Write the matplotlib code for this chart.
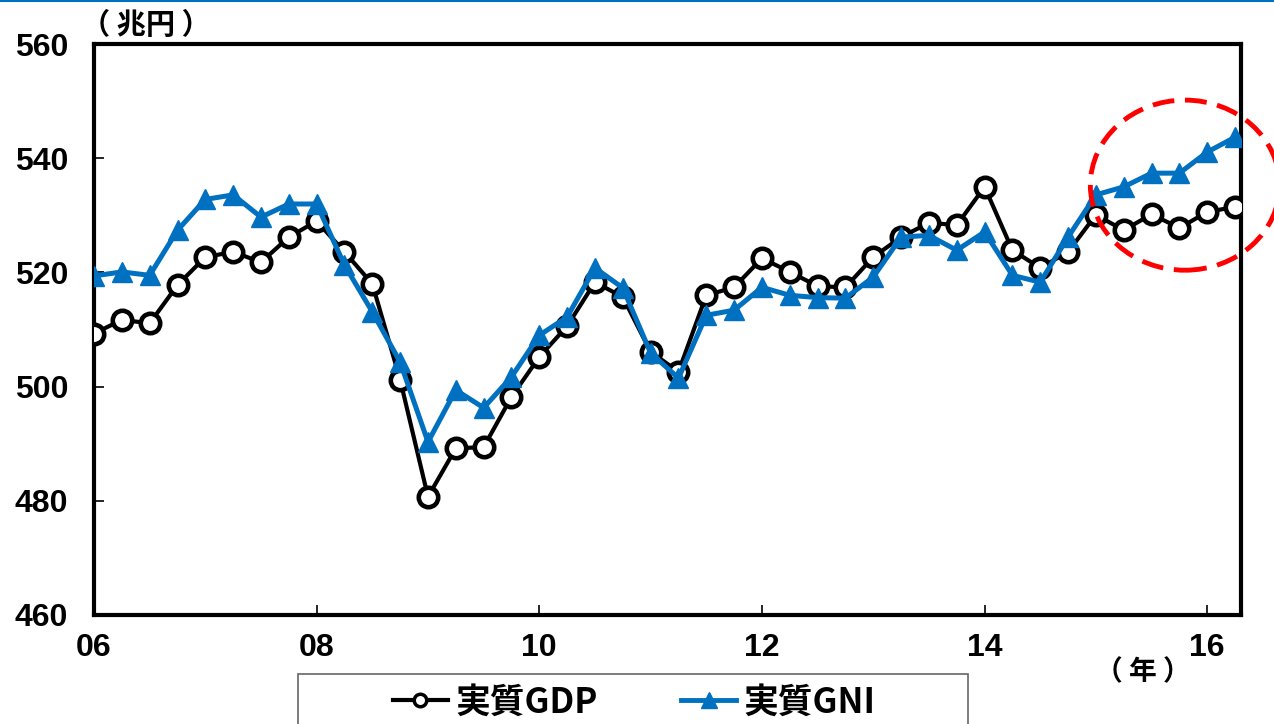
import matplotlib.pyplot as plt
from matplotlib.patches import Ellipse, Rectangle
from matplotlib.lines import Line2D

plt.rcParams['font.family'] = ['Noto Sans CJK JP', 'DejaVu Sans']

# quarterly index: 0 = 2006Q1 ... 41 = 2016Q2
quarters = list(range(42))
year_ticks = [0, 8, 16, 24, 32, 40]
year_labels = ['06', '08', '10', '12', '14', '16']

# real GDP (trillion yen)
gdp = [509.3, 511.7, 511.1, 517.8, 522.7, 523.6, 521.8, 526.2,
       529.0, 523.6, 518.0, 501.2, 480.7, 489.2, 489.4, 498.2,
       505.2, 510.6, 518.3, 515.7, 506.1, 502.6, 516.0, 517.4,
       522.5, 520.1, 517.6, 517.4, 522.7, 526.2, 528.7, 528.3,
       535.0, 523.9, 520.8, 523.6, 530.1, 527.4, 530.2, 527.8,
       530.6, 531.5]

# real GNI (trillion yen)
gni = [519.4, 520.1, 519.5, 527.4, 532.8, 533.6, 529.7, 532.0,
       532.0, 521.3, 513.1, 504.3, 490.3, 499.4, 496.3, 501.7,
       509.0, 512.2, 520.8, 517.3, 505.9, 501.5, 512.5, 513.4,
       517.4, 516.0, 515.6, 515.5, 519.2, 526.2, 526.5, 523.9,
       527.1, 519.5, 518.3, 526.2, 533.6, 535.0, 537.4, 537.4,
       541.1, 543.7]

blue = '#0070C0'

fig = plt.figure(figsize=(12.74, 7.24), dpi=100)
ax = fig.add_axes([0.0738, 0.1506, 0.9, 0.7884])

ax.plot(quarters, gdp, color='black', lw=3, marker='o', markersize=14,
        markerfacecolor='white', markeredgecolor='black', markeredgewidth=3.3,
        zorder=3)
ax.plot(quarters, gni, color=blue, lw=3.6, marker='^', markersize=15,
        markerfacecolor=blue, markeredgecolor=blue, zorder=4)

# highlight of the latest quarters
ell = Ellipse((39.2, 535.3), 6.8, 29.8, fill=False, edgecolor='#FF0000',
              lw=3.5, linestyle=(0, (4.5, 2.2)), clip_on=False, zorder=5)
ax.add_patch(ell)

ax.set_xlim(0, 41.2)
ax.set_ylim(460, 560)
ax.set_yticks([460, 480, 500, 520, 540, 560])
ax.set_xticks(year_ticks)
ax.set_xticklabels(year_labels)
ax.tick_params(direction='in', length=7, width=1.2, labelsize=23)
ax.tick_params(axis='x', pad=13)
ax.tick_params(axis='y', pad=18.5)
for lab in ax.get_xticklabels() + ax.get_yticklabels():
    lab.set_family(['Liberation Sans', 'DejaVu Sans'])
    lab.set_fontweight('bold')
for sp in ax.spines.values():
    sp.set_linewidth(3)
    sp.set_color('black')

fig.text(146 / 1274, 1 - 25 / 724, '（ 兆円 ）', fontsize=21, fontweight='bold',
         ha='center', va='center')
fig.text(1143 / 1274, 1 - 672 / 724, '（ 年 ）', fontsize=20, fontweight='bold',
         ha='center', va='center')

# legend with small markers and a box running off the bottom edge
handles = [Line2D([], [], color='black', lw=3, marker='o', markersize=9,
                  markerfacecolor='white', markeredgewidth=2.5),
           Line2D([], [], color=blue, lw=3.5, marker='^', markersize=12,
                  markerfacecolor=blue, markeredgecolor=blue)]
fig.legend(handles, ['実質GDP', '実質GNI'], loc='center',
           bbox_to_anchor=(634 / 1274, 1 - 702 / 724), ncol=2,
           prop={'size': 25, 'weight': 'bold'}, frameon=False,
           handlelength=1.6, handletextpad=0.2, columnspacing=2.4,
           borderaxespad=0)
fig.add_artist(Rectangle((298 / 1274, -0.05), 670 / 1274, 0.05 + 1 - 674 / 724,
                         transform=fig.transFigure, fill=False,
                         edgecolor='#666666', lw=1.2))

fig.add_artist(Line2D([0, 1], [0.999, 0.999], color=blue, lw=1.5,
                      transform=fig.transFigure))

fig.savefig('out.png', dpi=100)
